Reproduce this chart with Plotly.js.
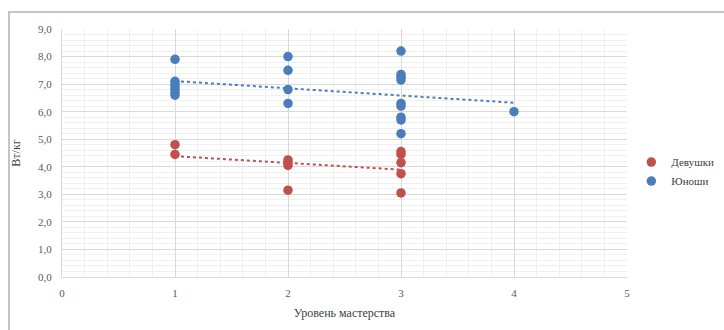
<!DOCTYPE html>
<html>
<head>
<meta charset="utf-8">
<script src="https://cdn.plot.ly/plotly-3.0.1.min.js"></script>
<style>
html,body{margin:0;padding:0;background:#fff;}
#frame{position:absolute;left:8px;top:11px;width:716px;height:319px;border-top:2px solid #c4c4c4;border-left:2px solid #c4c4c4;}
#chart{position:absolute;left:0;top:0;width:724px;height:330px;}
</style>
</head>
<body>
<div id="frame"></div>
<div id="chart"></div>
<script>
const girlsX = [1, 1, 2, 2, 2, 2, 3, 3, 3, 3, 3];
const girlsY = [4.8, 4.45, 4.25, 4.15, 4.05, 3.15, 4.55, 4.45, 4.15, 3.75, 3.05];
const boysX = [1, 1, 1, 1, 1, 1, 1, 2, 2, 2, 2, 3, 3, 3, 3, 3, 3, 3, 3, 3, 4];
const boysY = [7.9, 7.1, 7.0, 6.9, 6.8, 6.7, 6.6, 8.0, 7.5, 6.8, 6.3, 8.2, 7.35, 7.25, 7.15, 6.3, 6.2, 5.8, 5.7, 5.2, 6.0];
const seriesNames = ['Девушки', 'Юноши'];
const colors = ['#c0504d', '#4a7ebb'];

function fit(xs, ys) {
  const n = xs.length;
  const mx = xs.reduce((a, b) => a + b, 0) / n;
  const my = ys.reduce((a, b) => a + b, 0) / n;
  let sxy = 0, sxx = 0;
  for (let i = 0; i < n; i++) { sxy += (xs[i] - mx) * (ys[i] - my); sxx += (xs[i] - mx) ** 2; }
  const b = sxy / sxx, a = my - b * mx;
  const x0 = Math.min(...xs), x1 = Math.max(...xs);
  return {x: [x0, x1], y: [a + b * x0, a + b * x1]};
}
const tg = fit(girlsX, girlsY), tb = fit(boysX, boysY);

const fam = 'Liberation Serif';
const font = {family: fam, color: '#595959', size: 11};
const data = [
  {x: tg.x, y: tg.y, mode: 'lines', line: {color: colors[0], width: 2, dash: 'dot'}, showlegend: false, hoverinfo: 'skip'},
  {x: tb.x, y: tb.y, mode: 'lines', line: {color: colors[1], width: 2, dash: 'dot'}, showlegend: false, hoverinfo: 'skip'},
  {x: girlsX, y: girlsY, mode: 'markers', name: seriesNames[0], marker: {color: colors[0], size: 9.5}},
  {x: boysX, y: boysY, mode: 'markers', name: seriesNames[1], marker: {color: colors[1], size: 9.5}}
];
const layout = {
  width: 724, height: 330,
  margin: {l: 62, r: 97, t: 29, b: 53},
  paper_bgcolor: 'rgba(0,0,0,0)', plot_bgcolor: '#fff',
  separators: ', ',
  font: font,
  xaxis: {
    range: [0, 5], dtick: 1, tick0: 0, showgrid: true, gridcolor: '#d9d9d9', gridwidth: 1,
    zeroline: false, showline: true, linecolor: '#d9d9d9', ticks: '', automargin: false,
    ticklabelstandoff: 6,
    minor: {dtick: 0.2, showgrid: true, gridcolor: '#f0f0f0'},
    title: {text: 'Уровень мастерства', font: {family: fam, size: 12, color: '#404040'}, standoff: 10},
    tickfont: {family: fam, color: '#595959', size: 11}
  },
  yaxis: {
    range: [0, 9], dtick: 1, tick0: 0, tickformat: '.1f', showgrid: true, gridcolor: '#d9d9d9', gridwidth: 1,
    zeroline: false, showline: true, linecolor: '#d9d9d9', ticks: '', automargin: false,
    ticklabelstandoff: 7,
    minor: {dtick: 0.2, showgrid: true, gridcolor: '#f0f0f0'},
    title: {text: 'Вт/кг', font: {family: fam, size: 12, color: '#404040'}, standoff: 14},
    tickfont: {family: fam, color: '#595959', size: 11}
  },
  legend: {xref: 'container', yref: 'container', x: 0.872, y: 0.48, xanchor: 'left', yanchor: 'middle',
           font: {family: fam, size: 11, color: '#404040'}, itemwidth: 30, tracegroupgap: 4},
  showlegend: true
};
Plotly.newPlot('chart', data, layout, {displayModeBar: false, staticPlot: true});
</script>
</body>
</html>
